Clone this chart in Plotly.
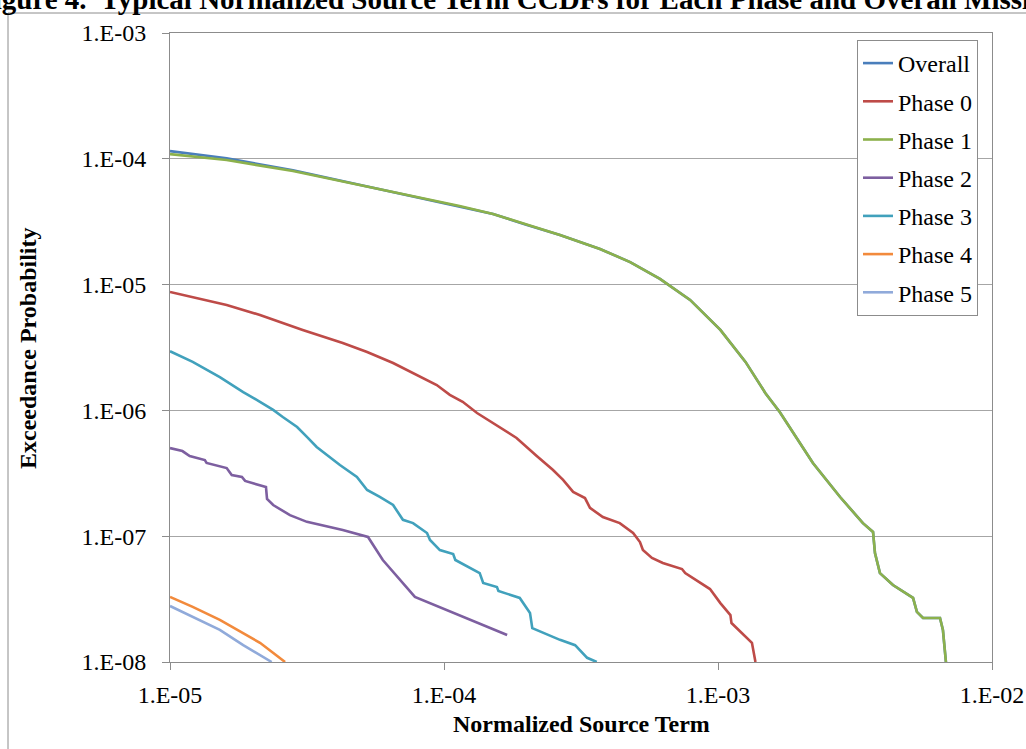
import plotly.graph_objects as go

# ---------------- data ----------------
overall_x = [1.00e-5, 1.61e-5, 2.81e-5, 4.93e-5, 8.67e-5, 1.14e-4, 1.51e-4, 2.01e-4, 2.65e-4,
             3.71e-4, 4.78e-4, 6.14e-4, 7.91e-4, 1.02e-3, 1.26e-3, 1.49e-3, 1.68e-3, 2.22e-3,
             2.79e-3, 3.38e-3, 3.68e-3, 3.74e-3, 3.90e-3, 4.35e-3, 5.15e-3, 5.32e-3, 5.60e-3,
             6.46e-3, 6.62e-3, 6.79e-3]
overall_y = [1.15e-4, 1.01e-4, 8.1e-5, 6.2e-5, 4.79e-5, 4.22e-5, 3.64e-5, 2.98e-5, 2.48e-5,
             1.92e-5, 1.51e-5, 1.11e-5, 7.55e-6, 4.36e-6, 2.43e-6, 1.37e-6, 9.7e-7, 3.82e-7,
             2.05e-7, 1.27e-7, 1.08e-7, 7.35e-8, 5.09e-8, 4.09e-8, 3.23e-8, 2.50e-8, 2.24e-8,
             2.24e-8, 1.80e-8, 1.0e-8]

phase1_x = [1.00e-5, 1.61e-5, 2.81e-5, 4.93e-5, 8.67e-5, 1.14e-4, 1.51e-4, 2.01e-4, 2.65e-4,
            3.71e-4, 4.78e-4, 6.14e-4, 7.91e-4, 1.02e-3, 1.26e-3, 1.49e-3, 1.68e-3, 2.22e-3,
            2.79e-3, 3.38e-3, 3.68e-3, 3.74e-3, 3.90e-3, 4.35e-3, 5.15e-3, 5.32e-3, 5.60e-3,
            6.46e-3, 6.62e-3, 6.79e-3]
phase1_y = [1.09e-4, 9.77e-5, 8.0e-5, 6.19e-5, 4.79e-5, 4.22e-5, 3.64e-5, 2.98e-5, 2.48e-5,
            1.92e-5, 1.51e-5, 1.11e-5, 7.55e-6, 4.36e-6, 2.43e-6, 1.37e-6, 9.7e-7, 3.82e-7,
            2.05e-7, 1.27e-7, 1.08e-7, 7.35e-8, 5.09e-8, 4.09e-8, 3.23e-8, 2.50e-8, 2.24e-8,
            2.24e-8, 1.80e-8, 1.0e-8]

phase0_x = [1.00e-5, 1.61e-5, 2.13e-5, 3.05e-5, 4.27e-5, 5.24e-5, 6.52e-5, 7.71e-5, 9.41e-5,
            1.05e-4, 1.17e-4, 1.32e-4, 1.60e-4, 1.84e-4, 2.18e-4, 2.50e-4, 2.72e-4, 2.96e-4,
            3.27e-4, 3.41e-4, 3.80e-4, 4.38e-4, 4.90e-4, 5.19e-4, 5.32e-4, 5.74e-4, 6.29e-4,
            7.39e-4, 7.59e-4, 9.35e-4, 1.02e-3, 1.11e-3, 1.12e-3, 1.33e-3, 1.37e-3]
phase0_y = [8.73e-6, 6.89e-6, 5.73e-6, 4.36e-6, 3.43e-6, 2.91e-6, 2.38e-6, 1.98e-6, 1.59e-6,
            1.33e-6, 1.17e-6, 9.53e-7, 7.38e-7, 6.04e-7, 4.34e-7, 3.36e-7, 2.80e-7, 2.25e-7,
            2.01e-7, 1.68e-7, 1.42e-7, 1.27e-7, 1.06e-7, 8.99e-8, 7.76e-8, 6.71e-8, 6.12e-8,
            5.48e-8, 5.09e-8, 3.80e-8, 2.94e-8, 2.36e-8, 2.04e-8, 1.42e-8, 1.0e-8]

phase2_x = [1.00e-5, 1.11e-5, 1.18e-5, 1.34e-5, 1.36e-5, 1.61e-5, 1.68e-5, 1.83e-5, 1.88e-5,
            2.24e-5, 2.26e-5, 2.38e-5, 2.74e-5, 3.16e-5, 4.27e-5, 5.28e-5, 5.98e-5, 7.83e-5,
            1.70e-4]
phase2_y = [5.02e-7, 4.75e-7, 4.34e-7, 4.03e-7, 3.82e-7, 3.48e-7, 3.06e-7, 2.96e-7, 2.75e-7,
            2.46e-7, 1.98e-7, 1.77e-7, 1.47e-7, 1.30e-7, 1.12e-7, 9.86e-8, 6.47e-8, 3.29e-8,
            1.64e-8]

phase3_x = [1.00e-5, 1.21e-5, 1.52e-5, 1.85e-5, 2.13e-5, 2.38e-5, 2.58e-5, 2.91e-5, 3.16e-5,
            3.43e-5, 3.74e-5, 4.17e-5, 4.81e-5, 5.24e-5, 5.83e-5, 6.52e-5, 7.08e-5, 7.71e-5,
            8.67e-5, 8.89e-5, 9.66e-5, 1.08e-4, 1.10e-4, 1.35e-4, 1.39e-4, 1.56e-4, 1.58e-4,
            1.89e-4, 2.06e-4, 2.10e-4, 2.65e-4, 3.01e-4, 3.33e-4, 3.61e-4]
phase3_y = [2.95e-6, 2.43e-6, 1.84e-6, 1.40e-6, 1.17e-6, 1.01e-6, 8.87e-7, 7.38e-7, 6.15e-7,
            5.12e-7, 4.42e-7, 3.68e-7, 2.96e-7, 2.33e-7, 2.05e-7, 1.77e-7, 1.35e-7, 1.27e-7,
            1.06e-7, 9.33e-8, 7.76e-8, 7.22e-8, 6.47e-8, 5.09e-8, 4.25e-8, 3.94e-8, 3.67e-8,
            3.23e-8, 2.45e-8, 1.86e-8, 1.50e-8, 1.36e-8, 1.08e-8, 1.0e-8]

phase4_x = [1.00e-5, 1.21e-5, 1.52e-5, 1.85e-5, 2.13e-5, 2.63e-5]
phase4_y = [3.29e-8, 2.74e-8, 2.16e-8, 1.70e-8, 1.42e-8, 1.0e-8]

phase5_x = [1.00e-5, 1.21e-5, 1.52e-5, 1.85e-5, 2.35e-5]
phase5_y = [2.79e-8, 2.28e-8, 1.80e-8, 1.36e-8, 1.0e-8]

series_names = ["Overall", "Phase 0", "Phase 1", "Phase 2", "Phase 3", "Phase 4", "Phase 5"]
series_colors = ["#4A7EBB", "#BE4B48", "#8CB14C", "#7D5FA0", "#41A1BC", "#F28A3C", "#90AADA"]

x_tick_vals = [1e-5, 1e-4, 1e-3, 1e-2]
x_tick_text = ["1.E-05", "1.E-04", "1.E-03", "1.E-02"]
y_tick_vals = [1e-8, 1e-7, 1e-6, 1e-5, 1e-4, 1e-3]
y_tick_text = ["1.E-08", "1.E-07", "1.E-06", "1.E-05", "1.E-04", "1.E-03"]

title_text = "Figure 4.  Typical Normalized Source Term CCDFs for Each Phase and Overall Mission"
x_title = "Normalized Source Term"
y_title = "Exceedance Probability"

# ---------------- figure ----------------
W, H = 1026, 749
ML, MR, MT, MB = 170, 34, 33, 87
PW, PH = W - ML - MR, H - MT - MB


def px_x(px):
    return (px - ML) / PW


def px_y(py):
    return (H - MB - py) / PH


FONT = "Liberation Serif, Times New Roman, serif"

data_pairs = [(overall_x, overall_y), (phase0_x, phase0_y), (phase1_x, phase1_y),
              (phase2_x, phase2_y), (phase3_x, phase3_y), (phase4_x, phase4_y),
              (phase5_x, phase5_y)]

fig = go.Figure()
for i, ((xs, ys), name, col) in enumerate(zip(data_pairs, series_names, series_colors)):
    fig.add_trace(go.Scatter(x=xs, y=ys, mode="lines", name=name,
                             legendgroup=f"g{i}",
                             line=dict(color=col, width=2.6)))

axis_common = dict(type="log", showline=True, linecolor="#8C8C8C", linewidth=1,
                   mirror=True, ticks="outside", ticklen=7, tickcolor="#8C8C8C",
                   tickfont=dict(family=FONT, size=24, color="black"),
                   zeroline=False, tickmode="array", automargin=False)

fig.update_xaxes(**axis_common, range=[-5, -2], tickvals=x_tick_vals, ticktext=x_tick_text,
                 showgrid=False, ticklabelstandoff=4)
fig.update_yaxes(**axis_common, range=[-8, -3], tickvals=y_tick_vals, ticktext=y_tick_text,
                 showgrid=True, gridcolor="#A6A6A6", gridwidth=1, ticklabelstandoff=11)

fig.update_layout(
    width=W, height=H, autosize=False,
    margin=dict(l=ML, r=MR, t=MT, b=MB, autoexpand=False),
    paper_bgcolor="white", plot_bgcolor="white",
    showlegend=True,
    legend=dict(x=px_x(857), y=px_y(40), xanchor="left", yanchor="top",
                bgcolor="white", bordercolor="#8C8C8C", borderwidth=1,
                font=dict(family=FONT, size=24, color="black"),
                tracegroupgap=4, traceorder="grouped"),
    shapes=[dict(type="rect", xref="paper", yref="paper",
                 x0=px_x(8), x1=px_x(1060), y0=px_y(790), y1=px_y(13),
                 line=dict(color="#8C8C8C", width=1), fillcolor="rgba(0,0,0,0)", layer="below")],
    annotations=[
        dict(text=f"<b>{title_text}</b>", xref="paper", yref="paper",
             x=px_x(-26), y=px_y(17), xanchor="left", yanchor="bottom", showarrow=False,
             font=dict(family=FONT, size=29, color="black")),
        dict(text=f"<b>{x_title}</b>", xref="paper", yref="paper",
             x=px_x(581), y=px_y(724), xanchor="center", yanchor="middle", showarrow=False,
             font=dict(family=FONT, size=24, color="black")),
        dict(text=f"<b>{y_title}</b>", xref="paper", yref="paper",
             x=px_x(28), y=px_y(348), xanchor="center", yanchor="middle", showarrow=False,
             textangle=-90, font=dict(family=FONT, size=24, color="black")),
    ],
)

fig.write_html("out.html", config={"displayModeBar": False, "responsive": False},
               post_script="document.body.style.margin='0';")
